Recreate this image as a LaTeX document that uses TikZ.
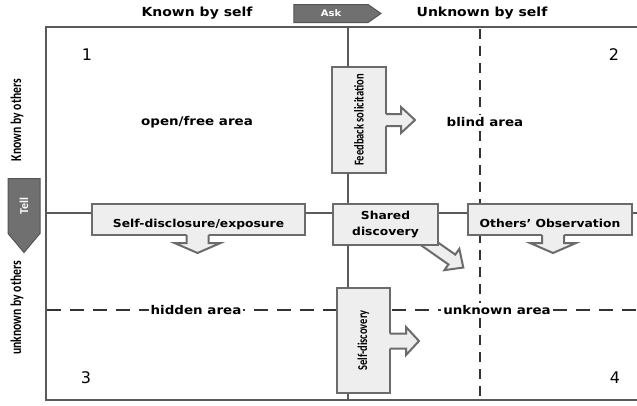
\documentclass[tikz,border=0pt]{standalone}
\usepackage{fontspec}
\usepackage{graphicx}
\setmainfont{DejaVu Sans}
\newfontfamily\narrowf{Carlito}
\usetikzlibrary{shapes.symbols}
\definecolor{framegray}{HTML}{5A5A5A}
\definecolor{dashgray}{HTML}{333333}
\definecolor{boxgray}{HTML}{6B6B6B}
\definecolor{boxfill}{HTML}{EEEEEE}
\definecolor{askgray}{HTML}{707070}
\definecolor{askdark}{HTML}{555555}
\newcommand\wlbl[2]{\scalebox{1.12}[1]{\fontsize{#1}{#1}\selectfont\bfseries #2}}
\newcommand\nlbl[2]{\scalebox{0.78}[1]{\fontsize{#1}{#1}\selectfont\narrowf\bfseries #2}}
\newcommand\myblockarrow[7]{%
\begin{scope}[shift={(#1,#2)},rotate=#3]
\fill[boxfill] (-3,-#5) -- (#4-#7,-#5) -- (#4-#7,-#6) -- (#4,0) -- (#4-#7,#6) -- (#4-#7,#5) -- (-3,#5) -- cycle;
\draw[arrowline] (0,-#5) -- (#4-#7,-#5) -- (#4-#7,-#6) -- (#4,0) -- (#4-#7,#6) -- (#4-#7,#5) -- (0,#5);
\end{scope}}
\tikzset{
  frameline/.style={draw=framegray, line width=2.2pt},
  vdash/.style={draw=dashgray, line width=2.8pt, dash pattern=on 10pt off 7pt},
  hdash/.style={draw=dashgray, line width=2pt, dash pattern=on 14pt off 9pt},
  boxnode/.style={draw=boxgray, fill=boxfill, line width=2pt, inner sep=0pt, align=center},
  arrowline/.style={draw=boxgray, line width=2pt, line join=miter},
  arealbl/.style={fill=white, inner sep=2pt},
  numlbl/.style={font=\fontsize{16}{16}\selectfont},
  tagshape/.style={signal, fill=askgray, draw=askdark, line width=1pt, text=white, inner sep=0pt},
}
\begin{document}
\begin{tikzpicture}[x=1pt,y=-1pt]
\useasboundingbox (0,0) rectangle (637,405);
% grid lines
\draw[frameline] (637,27) -- (46,27) -- (46,400) -- (637,400);
\coordinate (vtop) at (348,27);
\coordinate (vbot) at (348,400);
\draw[frameline] (vtop) -- (vbot);
\coordinate (hl) at (46,213);
\coordinate (hr) at (637,213);
\draw[frameline] (hl) -- (hr);
\coordinate (dtop) at (480,29);
\coordinate (dbot) at (480,399);
\draw[vdash] (dtop) -- (dbot);
\coordinate (hdl) at (47,310);
\coordinate (hdr) at (637,310);
\draw[hdash] (hdl) -- (hdr);
% headings
\node (kbs) at (197,13) {\wlbl{12.5}{Known by self}};
\node (ubs) at (482,13) {\wlbl{12.5}{Unknown by self}};
\node[tagshape, signal to=east, signal pointer angle=70, minimum width=87pt, minimum height=18pt] (ask) at (331,13.5) {\wlbl{9}{Ask}};
\node[rotate=90] (kbo) at (17,120) {\nlbl{15}{Known by others}};
\node[rotate=90] (ubo) at (17,308) {\nlbl{15}{unknown by others}};
\node[tagshape, signal to=south, signal pointer angle=80, minimum width=32pt, minimum height=60pt, anchor=north] (tell) at (24,178) {\rotatebox{90}{\fontsize{12}{12}\selectfont\narrowf\bfseries Tell}};
% numbers
\node[numlbl] (n1) at (87,55) {1};
\node[numlbl] (n2) at (614,55) {2};
\node[numlbl] (n3) at (86,378) {3};
\node[numlbl] (n4) at (615,378) {4};
% area labels
\node (open) at (197,122) {\wlbl{12}{open/free area}};
\node[arealbl] (blind) at (485,122) {\wlbl{12}{blind area}};
\node[arealbl] (hidden) at (196,310) {\wlbl{12}{hidden area}};
\node[arealbl] (unknown) at (497,310) {\wlbl{12}{unknown area}};
% shared discovery arrow (under its box)
\myblockarrow{424}{240}{-35}{48}{6}{13}{14}
% boxes
\node[boxnode, minimum width=54pt, minimum height=106pt] (fb) at (359,120) {\rotatebox{90}{\nlbl{13.5}{Feedback solicitation}}};
\node[boxnode, minimum width=213pt, minimum height=31pt] (sd) at (198.5,219.5) {\raisebox{-7.5pt}[0pt][0pt]{\wlbl{11}{Self-disclosure/exposure}}};
\node[boxnode, minimum width=105pt, minimum height=41pt] (sh) at (385.5,224.5) {\wlbl{11}{Shared}\\[4pt]\wlbl{11}{discovery}};
\node[boxnode, minimum width=164pt, minimum height=31pt] (oo) at (550,219.5) {\raisebox{-7.5pt}[0pt][0pt]{\wlbl{11}{Others’ Observation}}};
\node[boxnode, minimum width=53pt, minimum height=105pt] (sdisc) at (363.5,340.5) {\rotatebox{90}{\nlbl{13.5}{Self-discovery}}};
% block arrows attached to boxes
\myblockarrow{386}{120}{0}{29}{6}{13}{14}
\myblockarrow{197.5}{235}{-90}{18}{11}{23}{10}
\myblockarrow{553}{235}{-90}{18}{11}{23}{10}
\myblockarrow{390}{341}{0}{29}{7.5}{14}{13}
\end{tikzpicture}
\end{document}
